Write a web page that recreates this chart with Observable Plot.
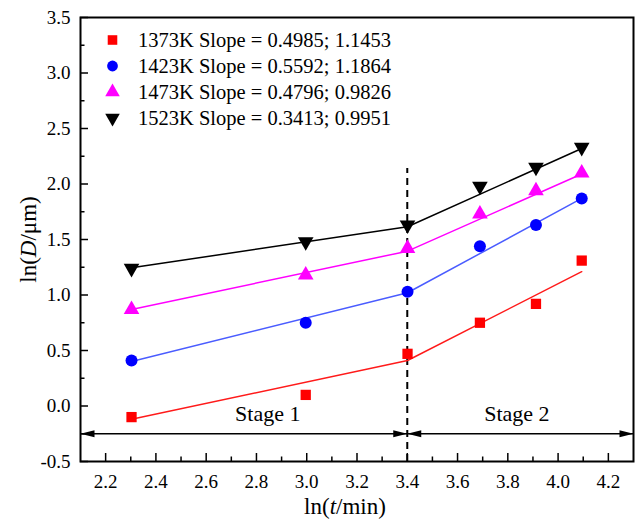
<!DOCTYPE html>
<html><head><meta charset="utf-8">
<script src="https://cdn.jsdelivr.net/npm/d3@7"></script>
<script src="https://cdn.jsdelivr.net/npm/@observablehq/plot@0.6"></script>
<style>body{margin:0;background:#fff;}</style>
</head><body><div id="chart"></div>
<script>
// ---- data ----
const lnTime = [2.303, 2.996, 3.401, 3.689, 3.912, 4.094];
const series = ["1373K", "1423K", "1473K", "1523K"];
const legendLabels = [
  "1373K Slope = 0.4985; 1.1453",
  "1423K Slope = 0.5592; 1.1864",
  "1473K Slope = 0.4796; 0.9826",
  "1523K Slope = 0.3413; 0.9951"
];
const lnD1373 = [-0.10, 0.10, 0.47, 0.75, 0.92, 1.31];
const lnD1423 = [0.41, 0.75, 1.03, 1.44, 1.63, 1.87];
const lnD1473 = [0.87, 1.18, 1.42, 1.73, 1.94, 2.10];
const lnD1523 = [1.24, 1.48, 1.63, 1.98, 2.15, 2.33];
// fitted lines (two stages) evaluated at start, break, end
const fitX = [2.303, 3.401, 4.094];
const fit1373 = [-0.12, 0.41, 1.21];
const fit1423 = [0.40, 1.02, 1.87];
const fit1473 = [0.87, 1.395, 2.09];
const fit1523 = [1.245, 1.615, 2.32];
const stageBounds = [2.1, 3.4, 4.3];
const stageLabels = ["Stage 1", "Stage 2"];
const stageLabelX = [2.845, 3.836];
const stageArrowY = -0.25;
const stageLabelY = -0.07;
const dividerTop = 2.14;
const xTicks = [2.2, 2.4, 2.6, 2.8, 3.0, 3.2, 3.4, 3.6, 3.8, 4.0, 4.2];
const xMinor = [2.3, 2.5, 2.7, 2.9, 3.1, 3.3, 3.5, 3.7, 3.9, 4.1];
const yTicks = [-0.5, 0.0, 0.5, 1.0, 1.5, 2.0, 2.5, 3.0, 3.5];
const yMinor = [-0.25, 0.25, 0.75, 1.25, 1.75, 2.25, 2.75, 3.25];

// ---- styling ----
const pointColors = ["#ff0000", "#0000ff", "#ff00ff", "#000000"];
const lineColors = ["#ff1a1a", "#4a5cff", "#ff00ff", "#000000"];
const symbols = ["square", "circle", "triangle", "triangle"];
const rotations = [0, 0, 0, 180];
const pointR = [5.8, 6, 5.8, 5.8];

const values = [lnD1373, lnD1423, lnD1473, lnD1523];
const fits = [fit1373, fit1423, fit1473, fit1523];

const points = series.flatMap((s, i) => lnTime.map((x, j) => ({s, i, x, y: values[i][j]})));
const fitRows = series.flatMap((s, i) => fitX.map((x, j) => ({s, i, x, y: fits[i][j]})));

const arrowHead = {draw(ctx) { ctx.moveTo(0, 0); ctx.lineTo(-14, -3.5); ctx.lineTo(-14, 3.5); ctx.closePath(); }};
const heads = [
  {x: stageBounds[0], rot: 180},
  {x: stageBounds[1], rot: 0},
  {x: stageBounds[1], rot: 180},
  {x: stageBounds[2], rot: 0}
];
const segs = [
  {x1: stageBounds[0], x2: stageBounds[1]},
  {x1: stageBounds[1], x2: stageBounds[2]}
];
const fmt = d => d.toFixed(1);

const marks = [
  Plot.axisX(xTicks, {tickSize: -8, tickPadding: 21, tickFormat: fmt, strokeWidth: 1.5, label: null, fontSize: 19}),
  Plot.axisX(xMinor, {tickSize: -4.5, tickFormat: () => "", strokeWidth: 1.5, label: null}),
  Plot.axisY(yTicks, {tickSize: -8, tickPadding: 18, tickFormat: fmt, strokeWidth: 1.5, label: null, fontSize: 19}),
  Plot.axisY(yMinor, {tickSize: -4.5, tickFormat: () => "", strokeWidth: 1.5, label: null}),
  // stage divider and arrows
  Plot.ruleX([stageBounds[1]], {y1: -0.5, y2: dividerTop, stroke: "#000", strokeWidth: 2, strokeDasharray: "7,5"}),
  Plot.link(segs, {x1: "x1", x2: "x2", y1: stageArrowY, y2: stageArrowY, stroke: "#000", strokeWidth: 1.5}),
  Plot.dot(heads, {x: "x", y: stageArrowY, symbol: arrowHead, rotate: "rot", r: 5, fill: "#000", stroke: "none"}),
  Plot.text(stageLabels, {x: (d, i) => stageLabelX[i], y: stageLabelY, text: d => d, fontSize: 22}),
  // fit lines
  ...series.map((s, i) => Plot.line(fitRows.filter(d => d.i === i), {x: "x", y: "y", stroke: lineColors[i], strokeWidth: 1.5})),
  // points
  ...series.map((s, i) => Plot.dot(points.filter(d => d.i === i), {x: "x", y: "y", symbol: symbols[i], rotate: rotations[i], r: pointR[i], fill: pointColors[i], stroke: "none"})),
  // legend
  ...series.map((s, i) => Plot.dot([s], {frameAnchor: "top-left", dx: 32, dy: 22.5 + 26 * i, symbol: symbols[i], rotate: rotations[i], r: 5.4, fill: pointColors[i], stroke: "none"})),
  ...series.map((s, i) => Plot.text([legendLabels[i]], {frameAnchor: "top-left", dx: 57.5, dy: 23 + 26 * i, textAnchor: "start", lineAnchor: "middle", fontSize: 20.5})),
  // axis titles
  Plot.text(["ln(t/min)"], {frameAnchor: "bottom", dx: -12, dy: 45.5, textAnchor: "middle", lineAnchor: "middle", fontSize: 23}),
  Plot.text(["ln(D/μm)"], {frameAnchor: "left", dx: -52, rotate: -90, textAnchor: "middle", lineAnchor: "middle", fontSize: 23}),
  Plot.frame({stroke: "#000", strokeWidth: 2})
];

const chart = Plot.plot({
  width: 640,
  height: 523,
  marginLeft: 80,
  marginRight: 7,
  marginTop: 17,
  marginBottom: 62,
  style: {fontFamily: "'Liberation Serif', 'Times New Roman', serif", fontSize: "19px", background: "#fff", color: "#000"},
  x: {domain: [2.1, 4.3]},
  y: {domain: [-0.5, 3.5]},
  marks
});

// italic variable letters in axis titles
d3.select(chart).selectAll("text").each(function() {
  const t = this.textContent;
  if (t === "ln(t/min)" || t === "ln(D/μm)") {
    const v = t === "ln(t/min)" ? "t" : "D";
    const rest = t === "ln(t/min)" ? "/min)" : "/μm)";
    const sel = d3.select(this);
    sel.text("");
    sel.append("tspan").text("ln(");
    sel.append("tspan").attr("font-style", "italic").text(v);
    sel.append("tspan").text(rest);
  }
});

document.getElementById("chart").appendChild(chart);
</script>
</body></html>
